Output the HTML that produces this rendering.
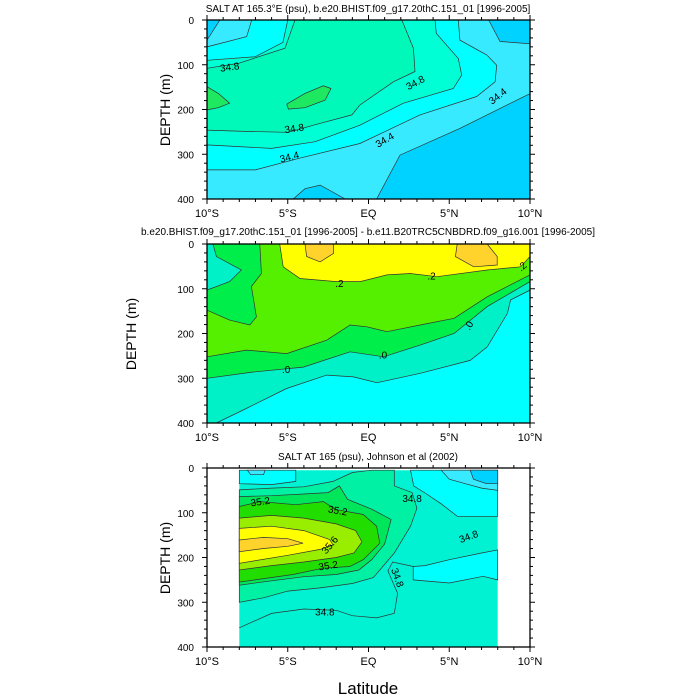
<!DOCTYPE html>
<html><head><meta charset="utf-8">
<style>
html,body{margin:0;padding:0;background:#fff;}
svg{display:block;font-family:"Liberation Sans",Arial,sans-serif;}
</style></head>
<body>
<svg id="chart" width="700" height="700" viewBox="0 0 700 700" xmlns="http://www.w3.org/2000/svg">
<rect width="700" height="700" fill="#fff"/>
</svg>
<script>
// ---------- data (latitude deg, depth m) ----------
const xTicks = [-10,-5,0,5,10];
const xTickLabels = ["10°S","5°S","EQ","5°N","10°N"];
const yTicks = [0,100,200,300,400];
const yTickLabels = ["0","100","200","300","400"];

// Panel 1: model salinity
const p1Deep1 = [[0.5,400],[1.95,302],[5.67,242],[9.8,168],[10,165],[10,400]];
const p1Deep2 = [[7.44,0],[8.14,48],[10,53],[10,0]];
const p1Deep3 = [[-10,0],[-9.2,0],[-10,45]];
const p1Deep4 = [[-4.66,400],[-3.93,377],[-2.99,369],[-1.44,400]];
const p1Cyan = [[-10,60],[-7.54,37],[-7.23,0],[5.56,0],[5.66,45],[7.32,78],[7.94,101],[7.84,138],[6.7,171],[3.19,212],[-0.53,276],[-4.3,309],[-7,335],[-10,335]];
const p1Teal = [[-10,90],[-7,82],[-5.3,50],[-5,0],[4.12,0],[4.2,30],[5.56,86],[5.77,123],[5.25,153],[2.16,186],[-0.53,235],[-3.3,272],[-6,287],[-10,279]];
const p1Sea = [[-10,108],[-8.06,97],[-5.17,63],[-4.55,0],[2.06,0],[2.78,63],[2.88,115],[1.54,138],[-0.53,190],[-1.03,212],[-3.3,234],[-4.96,251],[-7.65,249],[-10,246]];
const p1Blob1 = [[-10,149],[-9.3,164],[-8.6,186],[-9.3,196],[-10,201]];
const p1Blob2 = [[-5.06,188],[-3.93,164],[-2.8,147],[-2.32,153],[-2.69,179],[-3.93,196],[-4.96,199]];
const p1Labels = [["34.8",-8.6,105,-8],["34.8",-4.6,242,-8],["34.4",-4.9,306,-14],["34.8",2.9,140,-28],["34.4",1.0,268,-30],["34.4",8.0,170,-38]];

// Panel 2: difference
const p2Teal = [[-10,400],[-9.42,400],[-7.76,371],[-5.07,323],[-2.59,293],[-0.93,297],[0.52,310],[3.2,289],[6.3,260],[7.35,230],[8.6,155],[8.8,125],[10,103],[10,0],[-10,0]];
const p2Green = [[-10,300],[-7.14,286],[-4.04,275],[-1.14,241],[0.93,252],[3.2,226],[5.3,200],[7.35,140],[10,84],[10,0],[-10,0]];
const p2Light = [[-10,252],[-7.56,237],[-5.07,245],[-2.59,215],[-1.14,181],[-0.1,185],[1.14,196],[3.2,181],[5.3,166],[7.35,118],[10,69],[10,0],[-10,0]];
const p2Pocket = [[-10,0],[-6.73,0],[-6.63,66],[-7.25,95],[-6.94,163],[-7.35,181],[-8.6,170],[-10,148]];
const p2TealPocket = [[-10,0],[-9.63,0],[-9.42,28],[-7.87,58],[-8.6,84],[-10,103]];
const p2Yellow = [[-5.5,0],[-5.28,51],[-4.24,77],[-1.97,84],[-0.52,84],[1.14,69],[2.59,66],[4.24,73],[7.35,58],[9.42,51],[10,28],[10,0]];
const p2Orange1 = [[-3.93,0],[-3.83,28],[-3.0,40],[-2.17,21],[-2.17,0]];
const p2Orange2 = [[5.49,0],[5.38,28],[6.52,51],[7.97,47],[7.97,28],[7.35,0]];
const p2Labels = [[".2",-1.8,88,0],[".2",3.9,72,0],[".2",9.5,50,-40],[".0",-5.1,280,0],[".0",0.9,248,0],[".0",6.2,182,-60]];

// Panel 3: observations (Johnson et al)
const p3Domain = [[-8,5],[8,5],[8,400],[-8,400]];
const p3Sea = [[-8,49],[-6,45],[-4,42],[-2.2,30],[-1,10],[0.2,5],[1.6,5],[1.6,40],[2.7,55],[3,90],[2.6,130],[1.6,190],[0.3,245],[-1,258],[-3,268],[-5,275],[-6.5,290],[-8,300]];
const p3G1 = [[-8,64],[-6,62],[-4,58],[-2.5,55],[-1.8,40],[-1.3,70],[0.2,92],[1.4,115],[1.0,170],[0.2,205],[-0.6,228],[-2,238],[-4,243],[-6,252],[-8,262]];
const p3G2 = [[-8,86],[-6.7,75],[-4.5,82],[-2.8,75],[-2,93],[-0.33,104],[0.5,130],[0.7,168],[-0.33,205],[-1.16,220],[-2.8,224],[-4.67,238],[-8,255]];
const p3G3 = [[-8,112],[-6,106],[-4,112],[-2,125],[-0.8,140],[-0.4,165],[-0.9,190],[-2,200],[-4,210],[-6,218],[-8,228]];
const p3Yellow = [[-8,135],[-6,130],[-4,140],[-2.4,160],[-2.2,172],[-3,182],[-5,195],[-8,213]];
const p3Orange = [[-8,161],[-6.5,155],[-5,158],[-4.05,168],[-5,175],[-6.5,180],[-8,187]];
const p3CyanPocket = [[2.77,220],[3.5,218],[5,205],[7,190],[8,183],[8,250],[7.1,242],[5,257],[2.77,250]];
const p3CyanTop = [[2.6,5],[2.8,40],[3.6,58],[4.5,80],[5.5,108],[8,108],[8,5]];
const p3BlueTop = [[4.5,5],[5,25],[6,35],[7,45],[8,50],[8,5]];
const p3DeepTop = [[6.3,5],[6.5,25],[7.3,35],[8,35],[8,5]];
const p3CyanLeft = [[-8,5],[-8,35],[-6,37],[-4.5,30],[-4.5,5]];
const p3BlueLeft = [[-7.5,5],[-7.3,15],[-6.5,15],[-6.4,5]];
const p3Line348 = [[-8,357],[-6,325],[-4,315],[-2,318],[-1,330],[0.5,335],[1.6,325],[1.8,280],[1.2,230],[1.5,210],[2.77,220]];
const p3Labels = [["35.2",-6.7,75,-8],["35.2",-1.9,95,10],["35.6",-2.4,172,-50],["35.2",-2.5,218,-8],["34.8",-2.7,322,0],["34.8",2.7,68,0],["34.8",6.2,153,-20],["34.8",1.8,245,70]];

// ---------- drawing ----------
const svg = document.getElementById('chart');
const NS = 'http://www.w3.org/2000/svg';
const X0 = 207, XW = 323, PH = 179;
function xs(lat){ return X0 + (lat + 10) * XW / 20; }
function mk(tag, attrs, parent){ const e = document.createElementNS(NS, tag); for (const k in attrs) e.setAttribute(k, attrs[k]); (parent||svg).appendChild(e); return e; }

function drawPanel(top, layers, labels, extraLines, panelName){
  const ys = d => top + d * PH / 400;
  const g = mk('g', {});
  
  
  layers.forEach(([pts, color, name, stroke]) => {
    const p = mk('polygon', {points: pts.map(q => xs(q[0]).toFixed(1)+','+ys(q[1]).toFixed(1)).join(' '), fill: color, stroke: stroke ? '#333' : 'none', 'stroke-width': 0.7}, g);
    
    
  });
  extraLines.forEach(([pts, name]) => {
    const l = mk('polyline', {points: pts.map(q => xs(q[0]).toFixed(1)+','+ys(q[1]).toFixed(1)).join(' '), fill: 'none', stroke: '#333', 'stroke-width': 0.7}, g);
    
    
  });
  labels.forEach(([txt, lat, d, rot]) => {
    const x = xs(lat), y = ys(d);
    const t = mk('text', {x: x, y: y + 3.5, 'font-size': 10, 'text-anchor': 'middle', fill: '#000', transform: `rotate(${rot} ${x} ${y})`}, g);
    t.textContent = txt;
    
    
  });
  // frame
  const f = mk('rect', {x: X0, y: top, width: XW, height: PH, fill: 'none', stroke: '#000', 'stroke-width': 1.3}, g);
  
  
  // minor x ticks
  for (let lat = -10; lat <= 10; lat++) {
    const major = lat % 5 === 0, L = major ? 5 : 3, x = xs(lat);
    mk('line', {x1: x, y1: top + PH, x2: x, y2: top + PH + L, stroke: '#000', 'stroke-width': 1}, g);
    mk('line', {x1: x, y1: top, x2: x, y2: top - L, stroke: '#000', 'stroke-width': 1}, g);
  }
  for (let d = 0; d <= 400; d += 20) {
    const major = d % 100 === 0, L = major ? 5 : 3, y = ys(d);
    mk('line', {x1: X0, y1: y, x2: X0 - L, y2: y, stroke: '#000', 'stroke-width': 1}, g);
    mk('line', {x1: X0 + XW, y1: y, x2: X0 + XW + L, y2: y, stroke: '#000', 'stroke-width': 1}, g);
  }
  xTicks.forEach((v, i) => {
    const t = mk('text', {x: xs(v), y: top + PH + 18, 'font-size': 11, 'text-anchor': 'middle'}, g);
    t.textContent = xTickLabels[i];
    
    
  });
  yTicks.forEach((v, i) => {
    const t = mk('text', {x: X0 - 13, y: ys(v) + 4, 'font-size': 10, 'text-anchor': 'end'}, g);
    t.textContent = yTickLabels[i];
    
    
  });
}

const C = {deep:'#00d2ff', blue:'#38eaff', cyan:'#00ffff', teal:'#00ffd4', sea:'#00f8b8', blob:'#1ee860',
  teal2:'#00f0c8', green:'#00ee4a', lgreen:'#55f000', yellow:'#ffff00', orange:'#ffd22c',
  t3:'#00f2d2', s3:'#00f0a4', g1:'#00e65a', g2:'#22dd00', g3:'#99ee00'};

svg.appendChild(document.createElementNS(NS,'g'));
drawPanel(20, [
  [[[-10,0],[10,0],[10,400],[-10,400]], C.blue, 'bg-region', false],
  [p1Cyan, C.cyan, 'region-34-4', true],
  [p1Teal, C.teal, 'region-34-6', true],
  [p1Sea, C.sea, 'region-34-8', true],
  [p1Blob1, C.blob, 'region-35-0-a', true],
  [p1Blob2, C.blob, 'region-35-0-b', true],
  [p1Deep1, C.deep, 'region-34-2-a', true],
  [p1Deep2, C.deep, 'region-34-2-b', true],
  [p1Deep3, C.deep, 'region-34-2-c', true],
  [p1Deep4, C.deep, 'region-34-2-d', true]
], p1Labels, [], 'panel-model-salt');

drawPanel(244, [
  [[[-10,0],[10,0],[10,400],[-10,400]], C.cyan, 'bg-region', false],
  [p2Teal, C.teal2, 'region-neg', true],
  [p2Green, C.green, 'region-zero', true],
  [p2Light, C.lgreen, 'region-pos', true],
  [p2Pocket, C.green, 'region-zero-pocket', true],
  [p2TealPocket, C.teal2, 'region-neg-pocket', true],
  [p2Yellow, C.yellow, 'region-0-2', true],
  [p2Orange1, C.orange, 'region-0-4-a', true],
  [p2Orange2, C.orange, 'region-0-4-b', true]
], p2Labels, [], 'panel-difference');

drawPanel(468, [
  [p3Domain, C.t3, 'bg-region', false],
  [p3Sea, C.s3, 'region-35-0', true],
  [p3G1, C.g1, 'region-35-2', true],
  [p3G2, C.g2, 'region-35-3', true],
  [p3G3, C.g3, 'region-35-4', true],
  [p3Yellow, C.yellow, 'region-35-6', true],
  [p3Orange, C.orange, 'region-35-8', true],
  [p3CyanPocket, C.cyan, 'region-34-6-pocket', true],
  [p3CyanTop, C.cyan, 'region-34-6-top', true],
  [p3BlueTop, C.blue, 'region-34-4-top', true],
  [p3DeepTop, C.deep, 'region-34-2-top', true],
  [p3CyanLeft, C.cyan, 'region-34-6-left', true],
  [p3BlueLeft, C.blue, 'region-34-4-left', true]
], p3Labels, [[p3Line348, 'contour-34-8']], 'panel-observed-salt');

function txt(s, x, y, size, anchor, name, rot){
  const t = mk('text', {x: x, y: y, 'font-size': size, 'text-anchor': anchor, transform: rot ? `rotate(-90 ${x} ${y})` : ''});
  t.textContent = s;
  
  
}
txt('SALT AT 165.3°E (psu), b.e20.BHIST.f09_g17.20thC.151_01 [1996-2005]', 368, 12, 10, 'middle', 'title-panel-1');
txt('b.e20.BHIST.f09_g17.20thC.151_01 [1996-2005] - b.e11.B20TRC5CNBDRD.f09_g16.001 [1996-2005]', 368, 235, 10, 'middle', 'title-panel-2');
txt('SALT AT 165 (psu), Johnson et al (2002)', 368, 460, 10, 'middle', 'title-panel-3');
txt('DEPTH (m)', 170, 110, 14, 'middle', 'y-axis-title-1', true);
txt('DEPTH (m)', 136, 334, 14, 'middle', 'y-axis-title-2', true);
txt('DEPTH (m)', 170, 558, 14, 'middle', 'y-axis-title-3', true);
txt('Latitude', 368, 694, 17, 'middle', 'x-axis-title');
</script>
</body></html>
